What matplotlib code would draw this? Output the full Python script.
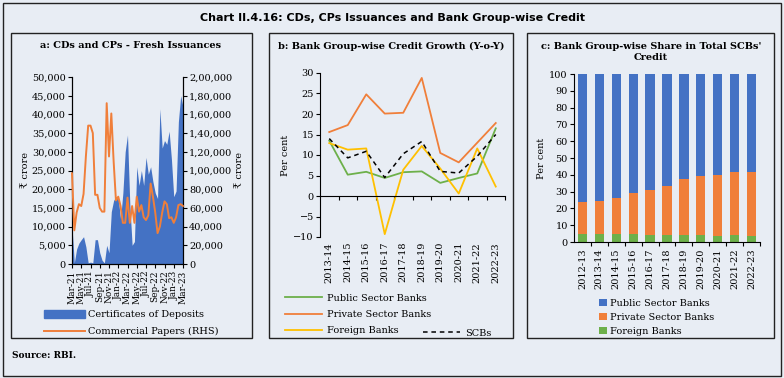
import matplotlib.pyplot as plt
from matplotlib.patches import Rectangle
from matplotlib.lines import Line2D
from matplotlib.ticker import FuncFormatter

# ---- data ----
# panel a: fortnightly fresh issuances, Mar-21 to Mar-23 (Rs crore)
cd_issuance = [10000, 300, 4000, 5600, 6500, 7300, 4600, 300, 500, 300,
               6500, 6500, 3000, 1000, 300, 5000, 3000, 14000, 17000, 18000,
               17500, 12000, 19000, 30000, 34500, 16000, 5000, 6000, 26000, 21000,
               25000, 21000, 28500, 24000, 26000, 22000, 19000, 17500, 41500, 31000,
               33000, 32000, 35500, 28000, 18000, 19500, 38000, 45000, 42000]
cp_issuance = [97000, 36000, 55000, 64000, 62000, 75000, 115000, 148000, 148000, 140000,
               74000, 74000, 60000, 56000, 56000, 172000, 115000, 161000, 110000, 68000,
               72000, 62000, 44000, 44000, 71000, 44000, 62000, 44000, 72000, 56000,
               63000, 50000, 47000, 52000, 86000, 72000, 55000, 33000, 40000, 55000,
               67000, 64000, 49000, 50000, 44000, 50000, 63000, 64000, 62000]
month_labels = ['Mar-21', 'May-21', 'Jul-21', 'Sep-21', 'Nov-21', 'Jan-22', 'Mar-22',
                'May-22', 'Jul-22', 'Sep-22', 'Nov-22', 'Jan-23', 'Mar-23']

# panel b: credit growth y-o-y (per cent)
years_b = ['2013-14', '2014-15', '2015-16', '2016-17', '2017-18', '2018-19',
           '2019-20', '2020-21', '2021-22', '2022-23']
growth_psb = [13.5, 5.2, 5.9, 4.4, 5.8, 6.0, 3.2, 4.4, 5.5, 16.5]
growth_pvb = [15.6, 17.3, 24.8, 20.1, 20.3, 28.8, 10.5, 8.2, 13.0, 17.8]
growth_fb = [12.9, 11.3, 11.6, -9.3, 6.4, 12.2, 6.7, 0.6, 11.6, 2.3]
growth_scb = [14.0, 9.3, 10.9, 4.5, 10.3, 13.3, 6.0, 5.6, 9.7, 15.0]

# panel c: share in total SCBs' credit (per cent)
years_c = ['2012-13'] + years_b
share_fb = [5.0, 5.0, 5.0, 5.0, 4.2, 4.1, 4.1, 4.0, 3.7, 4.0, 3.6]
share_pvb = [19.0, 19.3, 21.3, 24.0, 26.8, 29.4, 33.4, 35.0, 36.3, 37.5, 37.9]
share_psb = [100 - f - p for f, p in zip(share_fb, share_pvb)]

# ---- style ----
BG = '#E8EDF4'
BLUE = '#4472C4'
ORANGE = '#F07F3A'
GREEN = '#6DB04A'
YELLOW = '#FFC000'
plt.rcParams['font.family'] = 'DejaVu Serif'
plt.rcParams['font.size'] = 7

W, H = 784, 378
fig = plt.figure(figsize=(W / 100, H / 100), dpi=100)
fig.patch.set_facecolor(BG)


def box(x0, y0, x1, y1):
    # pixel box -> figure fraction rect
    return [x0 / W, 1 - y1 / H, (x1 - x0) / W, (y1 - y0) / H]


def frame(x0, y0, x1, y1, lw=1.0):
    fig.patches.append(Rectangle((x0 / W, 1 - y1 / H), (x1 - x0) / W, (y1 - y0) / H,
                                 transform=fig.transFigure, fill=False,
                                 edgecolor='#222222', linewidth=lw))


frame(3, 3, 781, 376)
frame(11, 33, 252, 338)
frame(269, 33, 513, 338)
frame(527, 33, 774, 338)

fig.text(392 / W, 1 - 18 / H, 'Chart II.4.16: CDs, CPs Issuances and Bank Group-wise Credit',
         ha='center', va='center', fontsize=8, fontweight='bold', family='DejaVu Serif Condensed')
fig.text(12 / W, 1 - 356 / H, 'Source: RBI.', ha='left', va='center', fontsize=6.5, fontweight='bold')

indian = FuncFormatter(lambda v, p: '{:,.0f}'.format(v) if v < 100000 else
                       '{},{:02d},{:03d}'.format(int(v) // 100000, int(v) % 100000 // 1000, int(v) % 1000))

# ---- panel a ----
ax = fig.add_axes(box(72, 77, 183, 264))
ax.set_facecolor('none')
x = list(range(len(cd_issuance)))
ax.fill_between(x, cd_issuance, color=BLUE, linewidth=0)
ax.set_xlim(0, len(x) - 1)
ax.set_ylim(0, 50000)
ax.set_yticks(range(0, 50001, 5000))
ax.yaxis.set_major_formatter(FuncFormatter(lambda v, p: '{:,.0f}'.format(v)))
ax.set_xticks(range(0, len(x), 4))
ax.set_xticklabels(month_labels, rotation=90, fontsize=6.5)
ax.tick_params(length=3, pad=1.5)
ax.set_ylabel('₹ crore', labelpad=1)
ax.spines['top'].set_visible(False)
ax2 = ax.twinx()
ax2.plot(x, cp_issuance, color=ORANGE, linewidth=1.4, zorder=3, clip_on=False)
ax2.set_ylim(0, 200000)
ax2.set_yticks(range(0, 200001, 20000))
ax2.yaxis.set_major_formatter(indian)
ax2.tick_params(length=3, pad=1.5)
ax2.set_ylabel('₹ crore', labelpad=2)
ax2.spines['top'].set_visible(False)
fig.text(131 / W, 1 - 46 / H, 'a: CDs and CPs - Fresh Issuances', ha='center', va='center',
         fontsize=7, fontweight='bold')
fig.legend(handles=[Rectangle((0, 0), 1, 1, color=BLUE),
                    Line2D([], [], color=ORANGE, linewidth=1.4)],
           labels=['Certificates of Deposits', 'Commercial Papers (RHS)'],
           loc='center', bbox_to_anchor=(131 / W, 1 - 323 / H), frameon=False,
           handlelength=4.2, handleheight=0.9, labelspacing=0.8, handletextpad=0.3)

# ---- panel b ----
bx = fig.add_axes(box(320, 73, 505, 237))
bx.set_facecolor('none')
xb = list(range(len(years_b)))
bx.plot(xb, growth_psb, color=GREEN, linewidth=1.3)
bx.plot(xb, growth_pvb, color=ORANGE, linewidth=1.3)
bx.plot(xb, growth_fb, color=YELLOW, linewidth=1.3)
bx.plot(xb, growth_scb, color='black', linewidth=1.1, linestyle=(0, (3, 2.5)))
bx.set_xlim(-0.5, len(xb) - 0.5)
bx.set_ylim(-10, 30)
bx.set_yticks(range(-10, 31, 5))
bx.spines['bottom'].set_position(('data', 0))
bx.spines['top'].set_visible(False)
bx.spines['right'].set_visible(False)
bx.set_xticks([i + 0.5 for i in xb])
bx.set_xticklabels([])
bx.tick_params(length=3, pad=1.5)
for i, lab in enumerate(years_b):
    bx.text(i, -0.03, lab, rotation=90, ha='center', va='top',
            transform=bx.get_xaxis_transform(), fontsize=7)
bx.set_ylabel('Per cent', labelpad=2)
fig.text(391 / W, 1 - 46 / H, 'b: Bank Group-wise Credit Growth (Y-o-Y)', ha='center', va='center',
         fontsize=7, fontweight='bold')
fig.legend(handles=[Line2D([], [], color=GREEN, linewidth=1.3),
                    Line2D([], [], color=ORANGE, linewidth=1.3),
                    Line2D([], [], color=YELLOW, linewidth=1.3)],
           labels=['Public Sector Banks', 'Private Sector Banks', 'Foreign Banks'],
           loc='upper left', bbox_to_anchor=(280 / W, 1 - 289 / H), frameon=False,
           handlelength=3.8, labelspacing=0.75, handletextpad=0.5, borderpad=0)
fig.legend(handles=[Line2D([], [], color='black', linewidth=1.1, linestyle=(0, (3, 2.5)))],
           labels=['SCBs'], loc='upper left', bbox_to_anchor=(418 / W, 1 - 324 / H),
           frameon=False, handlelength=3.8, handletextpad=0.5, borderpad=0)

# ---- panel c ----
cx = fig.add_axes(box(574, 74, 760, 242))
cx.set_facecolor('none')
xc = list(range(len(years_c)))
bottom2 = [f + p for f, p in zip(share_fb, share_pvb)]
cx.bar(xc, share_fb, width=0.55, color=GREEN, label='Foreign Banks')
cx.bar(xc, share_pvb, width=0.55, bottom=share_fb, color=ORANGE, label='Private Sector Banks')
cx.bar(xc, share_psb, width=0.55, bottom=bottom2, color=BLUE, label='Public Sector Banks')
cx.set_xlim(-0.5, len(xc) - 0.5)
cx.set_ylim(0, 100)
cx.set_yticks(range(0, 101, 10))
cx.set_xticks([i + 0.5 for i in xc])
cx.set_xticklabels([])
cx.tick_params(length=3, pad=1.5)
for i, lab in enumerate(years_c):
    cx.text(i, -0.04, lab, rotation=90, ha='center', va='top',
            transform=cx.get_xaxis_transform(), fontsize=7)
cx.spines['top'].set_visible(False)
cx.spines['right'].set_visible(False)
cx.set_ylabel('Per cent', labelpad=2)
fig.text(651 / W, 1 - 52 / H, "c: Bank Group-wise Share in Total SCBs'\nCredit", ha='center',
         va='center', fontsize=7, fontweight='bold', linespacing=1.2)
h, l = cx.get_legend_handles_labels()
fig.legend(h[::-1], l[::-1], loc='upper left', bbox_to_anchor=(594 / W, 1 - 294 / H),
           frameon=False, handlelength=0.8, handleheight=0.8, labelspacing=0.5,
           handletextpad=0.3, borderpad=0)

fig.savefig('out.png', dpi=100, facecolor=BG)
